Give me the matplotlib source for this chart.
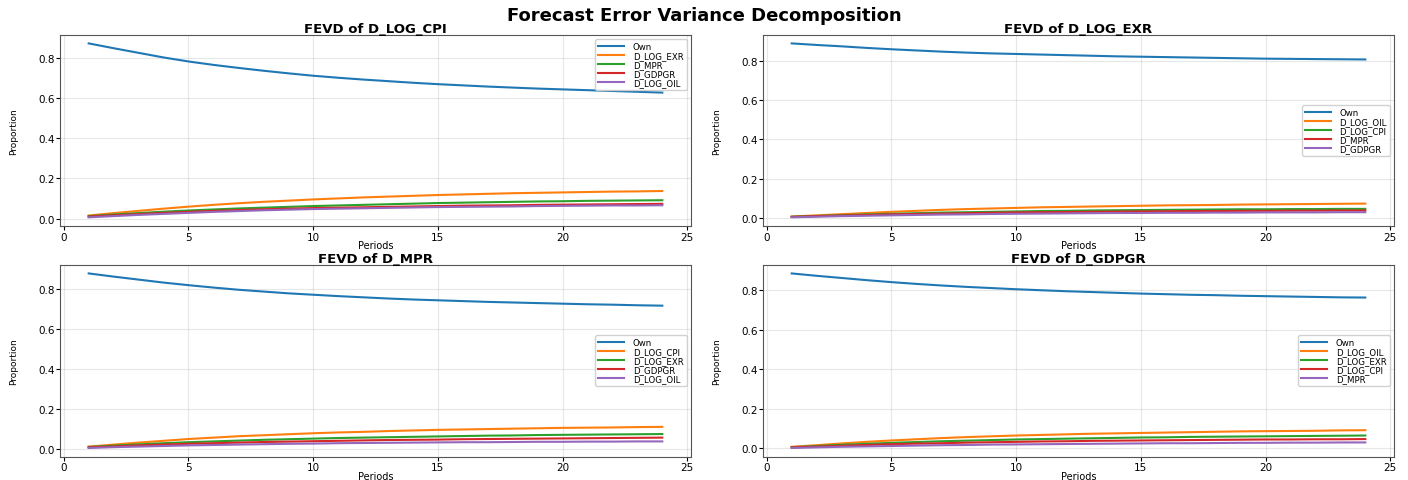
import matplotlib
matplotlib.use("Agg")
import matplotlib.pyplot as plt

periods = list(range(1, 25))

# FEVD of D_LOG_CPI
cpi_names = ["Own", "D_LOG_EXR", "D_MPR", "D_GDPGR", "D_LOG_OIL"]
cpi_own = [.872, .848, .825, .802, .782, .765, .750, .736, .723, .711, .701, .692, .684, .676, .669, .663, .657, .652, .647, .643, .639, .635, .631, .627]
cpi_exr = [.015, .027, .038, .049, .059, .068, .076, .083, .089, .095, .100, .105, .109, .113, .117, .120, .123, .126, .128, .130, .132, .134, .135, .137]
cpi_mpr = [.012, .020, .027, .034, .040, .045, .050, .054, .058, .062, .065, .068, .071, .074, .077, .079, .081, .083, .085, .086, .088, .089, .090, .091]
cpi_gdp = [.010, .016, .022, .028, .033, .038, .042, .046, .049, .052, .054, .056, .058, .060, .062, .064, .065, .066, .068, .069, .070, .071, .072, .073]
cpi_oil = [.006, .012, .018, .023, .028, .033, .037, .041, .044, .047, .049, .051, .053, .055, .057, .058, .059, .060, .062, .063, .064, .065, .065, .066]

# FEVD of D_LOG_EXR
exr_names = ["Own", "D_LOG_OIL", "D_LOG_CPI", "D_MPR", "D_GDPGR"]
exr_own = [.890, .882, .875, .867, .860, .854, .848, .843, .839, .836, .833, .830, .827, .824, .822, .820, .818, .816, .814, .812, .811, .810, .809, .808]
exr_oil = [.006, .012, .018, .024, .030, .035, .040, .044, .047, .050, .053, .055, .057, .059, .061, .063, .064, .065, .067, .068, .069, .070, .071, .072]
exr_cpi = [.005, .009, .013, .017, .020, .023, .026, .028, .030, .032, .034, .035, .037, .038, .039, .040, .041, .042, .043, .043, .044, .044, .045, .045]
exr_mpr = [.004, .008, .011, .014, .017, .019, .021, .023, .025, .027, .028, .029, .030, .031, .032, .033, .034, .034, .035, .035, .036, .036, .037, .037]
exr_gdp = [.002, .005, .008, .010, .012, .014, .016, .017, .019, .020, .021, .022, .023, .024, .024, .025, .025, .026, .026, .027, .027, .027, .028, .028]

# FEVD of D_MPR
mpr_names = ["Own", "D_LOG_CPI", "D_LOG_EXR", "D_GDPGR", "D_LOG_OIL"]
mpr_own = [.880, .864, .849, .834, .821, .809, .798, .789, .780, .773, .766, .760, .754, .749, .745, .741, .737, .734, .731, .728, .725, .723, .720, .718]
mpr_cpi = [.010, .020, .030, .039, .048, .055, .062, .067, .072, .077, .081, .084, .088, .091, .094, .096, .098, .100, .102, .104, .105, .106, .108, .109]
mpr_exr = [.008, .015, .021, .027, .032, .036, .040, .044, .047, .050, .053, .055, .057, .059, .061, .063, .065, .066, .068, .069, .070, .071, .072, .073]
mpr_gdp = [.006, .011, .016, .020, .024, .027, .030, .033, .035, .037, .039, .041, .043, .044, .045, .047, .048, .049, .050, .051, .052, .053, .054, .055]
mpr_oil = [.003, .007, .010, .013, .016, .018, .020, .022, .024, .025, .027, .028, .029, .030, .031, .032, .032, .033, .034, .034, .035, .035, .036, .036]

# FEVD of D_GDPGR
gdp_names = ["Own", "D_LOG_OIL", "D_LOG_EXR", "D_LOG_CPI", "D_MPR"]
gdp_own = [.885, .873, .862, .851, .841, .832, .824, .817, .811, .805, .800, .795, .791, .787, .783, .780, .777, .775, .772, .770, .768, .766, .764, .763]
gdp_oil = [.008, .016, .025, .033, .040, .046, .052, .057, .061, .065, .068, .071, .074, .076, .078, .080, .082, .084, .086, .087, .088, .089, .091, .092]
gdp_exr = [.006, .012, .018, .023, .028, .032, .036, .039, .042, .045, .047, .049, .051, .053, .055, .056, .058, .059, .060, .061, .062, .063, .064, .065]
gdp_cpi = [.005, .009, .013, .017, .021, .024, .026, .029, .031, .033, .035, .036, .038, .039, .040, .041, .042, .043, .044, .045, .045, .046, .046, .047]
gdp_mpr = [.002, .005, .008, .010, .012, .014, .016, .017, .019, .020, .021, .022, .023, .024, .025, .026, .026, .027, .028, .028, .029, .029, .030, .030]

panels = [
    ("FEVD of D_LOG_CPI", cpi_names, [cpi_own, cpi_exr, cpi_mpr, cpi_gdp, cpi_oil], "upper right"),
    ("FEVD of D_LOG_EXR", exr_names, [exr_own, exr_oil, exr_cpi, exr_mpr, exr_gdp], "center right"),
    ("FEVD of D_MPR", mpr_names, [mpr_own, mpr_cpi, mpr_exr, mpr_gdp, mpr_oil], "center right"),
    ("FEVD of D_GDPGR", gdp_names, [gdp_own, gdp_oil, gdp_exr, gdp_cpi, gdp_mpr], "center right"),
]

colors = ["#1f77b4", "#ff7f0e", "#2ca02c", "#d62728", "#9467bd"]

fig = plt.figure(figsize=(14.08, 4.81), dpi=100)
W, H = 1408.0, 481.0
def rect(l, r, t, b):
    return [l / W, 1 - b / H, (r - l) / W, (b - t) / H]

positions = [
    rect(60, 691, 35.7, 227),
    rect(763, 1394, 35.7, 227),
    rect(60, 691, 265.7, 457.7),
    rect(763, 1394, 265.7, 457.7),
]

for pos, (title, names, series, loc) in zip(positions, panels):
    ax = fig.add_axes(pos)
    for name, vals, c in zip(names, series, colors):
        ax.plot(periods, vals, color=c, lw=1.5, label=name)
    ax.set_title(title, fontsize=9.5, fontweight="bold", pad=1.5)
    ax.set_xlabel("Periods", fontsize=7, labelpad=-1)
    ax.set_ylabel("Proportion", fontsize=6.5)
    ax.yaxis.set_label_coords(-0.066, 0.5)
    ax.tick_params(labelsize=7.5, length=3, pad=1)
    ax.grid(True, alpha=0.3)
    for s in ax.spines.values():
        s.set_color("#555555")
    ax.legend(loc=loc, fontsize=6.2, handlelength=3.0, labelspacing=0.0,
              borderpad=0.35, borderaxespad=0.5, handletextpad=1.0,
              framealpha=0.9)

fig.suptitle("Forecast Error Variance Decomposition", fontsize=13,
             fontweight="bold", y=0.985)

fig.savefig("out.png", dpi=100)
